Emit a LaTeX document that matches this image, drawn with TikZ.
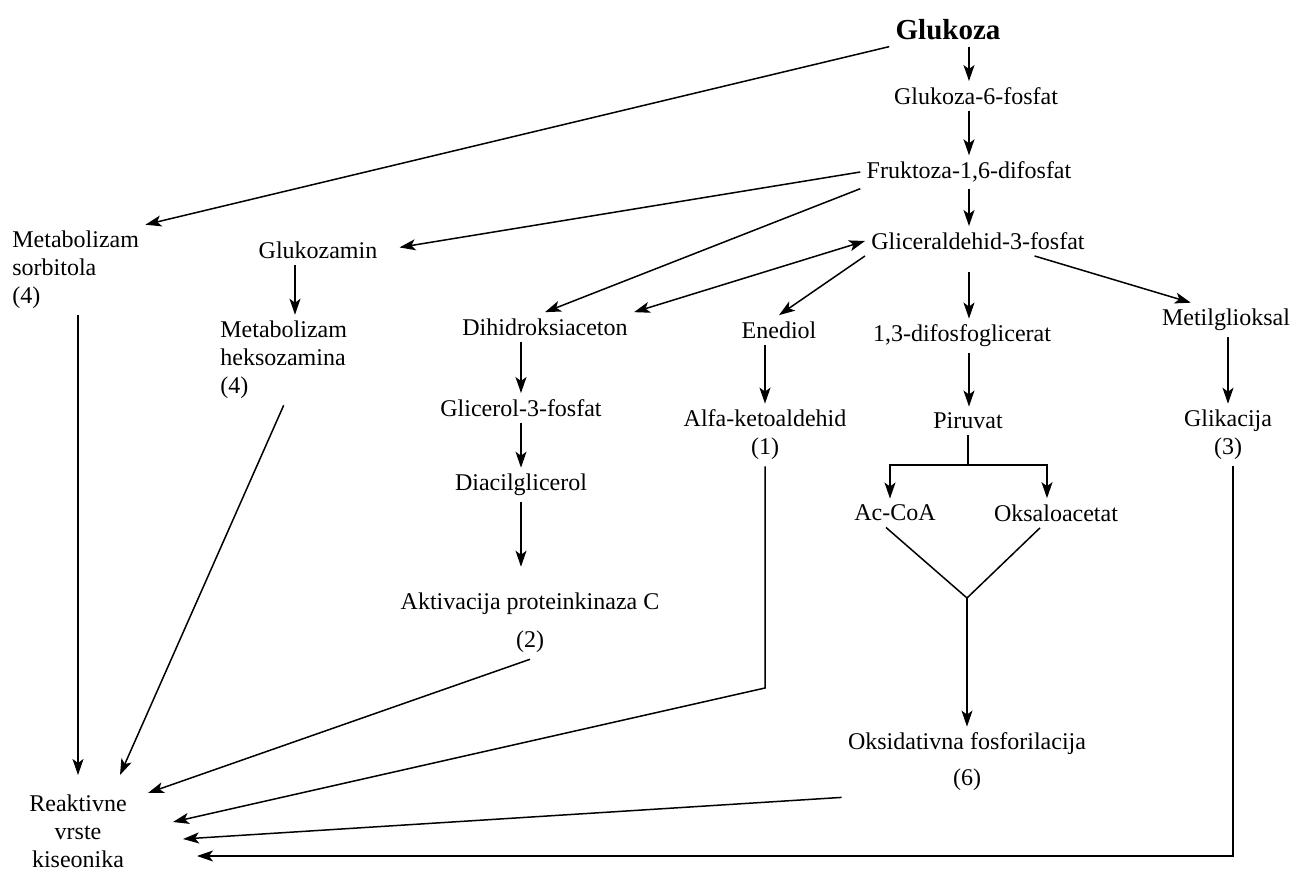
\documentclass[tikz,border=0pt]{standalone}
\usepackage{fontspec}
\setmainfont{Liberation Serif}
\usetikzlibrary{arrows.meta,calc}

\begin{document}
\begin{tikzpicture}[x=0.5pt,y=-0.5pt]
\tikzset{every node/.style={font=\fontsize{12}{14}\selectfont,inner sep=3pt}}
\tikzset{arr/.style={-{Stealth[length=8pt,width=5.5pt,inset=2pt]},line width=0.75pt}}
\tikzset{arrboth/.style={{Stealth[length=8pt,width=5.5pt,inset=2pt]}-{Stealth[length=8pt,width=5.5pt,inset=2pt]},line width=0.75pt}}
\tikzset{ln/.style={line width=0.75pt}}
\useasboundingbox (0,0) rectangle (1292,872);
% glycolysis column
\node[font=\fontsize{14.5}{16}\selectfont\bfseries] (glu) at (948,30) {Glukoza};
\node (g6p) at (976,96) {Glukoza-6-fosfat};
\node (f16) at (969,172) {Fruktoza-1,6-difosfat};
\node (ga3p) at (978,241) {Gliceraldehid-3-fosfat};
\node (dpg) at (962,336) {1,3-difosfoglicerat};
\node (pir) at (968,421) {Piruvat};
\node (acoa) at (895,513) {Ac-CoA};
\node (oaa) at (1056,513) {Oksaloacetat};
\node[align=center] (oks) at (967,762) {Oksidativna fosforilacija\\[4pt](6)};
% side pathways
\node[anchor=west,align=left] (sorb) at (6,270) {Metabolizam\\sorbitola\\(4)};
\node (glz) at (318,250) {Glukozamin};
\node[anchor=west,align=left] (hex) at (214,360) {Metabolizam\\heksozamina\\(4)};
\node (dha) at (545,327) {Dihidroksiaceton};
\node (gly) at (521,408) {Glicerol-3-fosfat};
\node (dag) at (521,485) {Diacilglicerol};
\node[align=center] (pkc) at (530,623) {Aktivacija proteinkinaza C\\[5pt](2)};
\node (ene) at (779,330) {Enediol};
\node[align=center] (alfa) at (765,435) {Alfa-ketoaldehid\\(1)};
\node (mgo) at (1226,320) {Metilglioksal};
\node[align=center] (gli) at (1228,435) {Glikacija\\(3)};
\node[align=center] (ros) at (78,831) {Reaktivne\\vrste\\kiseonika};
% arrow ends and corners
\coordinate (rA) at (78,775);
\coordinate (rB) at (120,775);
\coordinate (rC) at (148,793);
\coordinate (rD) at (173,822);
\coordinate (rE) at (183,839);
\coordinate (rF) at (197,856);
\coordinate (kA) at (765,688);
\coordinate (kB) at (1233,856);
\coordinate (brn) at (968,465);
\coordinate (vj) at (967,598);
\coordinate (glzd) at ($(glz.south)+(-23,0)$);

\draw[arr] (glu.south -| f16) -- (g6p.north -| f16);
\draw[arr] (g6p.south -| f16) -- (f16.north);
\draw[arr] (f16.south) -- (f16.south |- ga3p.north);
\draw[arr,shorten <=8pt] (ga3p.south -| f16) -- (dpg.north -| f16);
\draw[arr] (dpg.south -| f16) -- (pir.north -| f16);
\draw[ln] (pir.south) -- (brn);
\draw[arr] (brn) -| ($(acoa.north)+(-5,0)$);
\draw[arr] (brn) -| ($(oaa.north)+(-9,0)$);
\draw[ln] ($(acoa.south)+(-9,0)$) -- (vj) -- ($(oaa.south)+(-16,0)$);
\draw[arr] (vj) -- (vj |- oks.north);
\draw[arr] (oks.south west) -- (rE);

\draw[arr] (glu.south west) -- (sorb.north east);
\draw[arr] (sorb.south -| rA) -- (rA);
\draw[arr,shorten >=8pt] (f16.west) -- (glz.east);
\draw[arr] (glzd) -- (glzd |- hex.north);
\draw[arr] (hex.south) -- (rB);
\draw[arr] (f16.south west) -- (dha.north);
\draw[arrboth] (dha.north east) -- (ga3p.west);
\draw[arr] (dha.south -| gly) -- (gly.north);
\draw[arr] (gly.south) -- (dag.north);
\draw[arr,shorten >=10pt] (dag.south) -- (dag.south |- pkc.north);
\draw[arr] (pkc.south) -- (rC);
\draw[arr] (ga3p.south west) -- (ene.north);
\draw[arr] (ene.south -| alfa) -- (alfa.north);
\draw[arr] (alfa.south) -- (kA) -- (rD);
\draw[arr] ($(ga3p.south)!0.5!(ga3p.south east)$) -- ($(mgo.north west)!0.25!(mgo.north east)$);
\draw[arr] (mgo.south -| gli) -- (gli.north);
\draw[arr] (gli.south -| kB) -- (kB) -- (rF);
\end{tikzpicture}
\end{document}
